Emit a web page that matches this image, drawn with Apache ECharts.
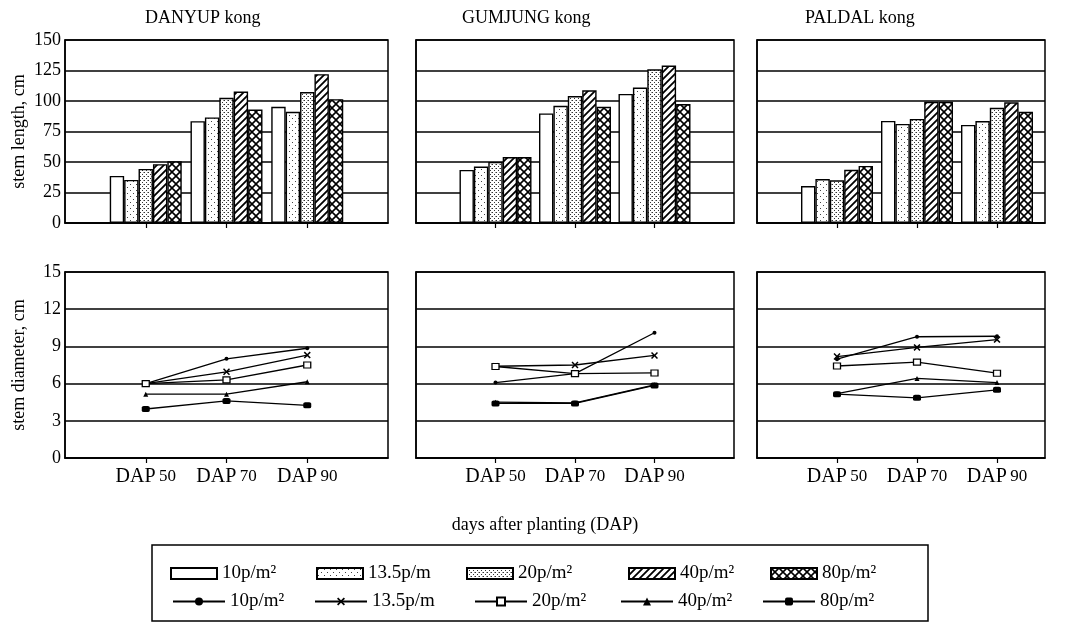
<!DOCTYPE html>
<html><head><meta charset="utf-8">
<script src="https://cdn.jsdelivr.net/npm/echarts@6/dist/echarts.min.js"></script>
<style>html,body{margin:0;padding:0;background:#fff}#c{width:1079px;height:636px}</style>
</head><body><div id="c"></div>
<script>
// ---- data ----
const cultivars = ['DANYUP kong', 'GUMJUNG kong', 'PALDAL kong'];
const categories = ['DAP 50', 'DAP 70', 'DAP 90'];
const densities = ['10p/m²', '13.5p/m', '20p/m²', '40p/m²', '80p/m²'];
const yLenTicks = [0, 25, 50, 75, 100, 125, 150];
const yDiaTicks = [0, 3, 6, 9, 12, 15];

// stem length (cm), rows = densities, cols = categories
const lengthDANYUP  = [[38.6, 83.5, 95.2], [35.3, 86.5, 91.1], [44.3, 102.6, 107.3], [48.2, 107.8, 122.0], [50.6, 93.0, 101.5]];
const lengthGUMJUNG = [[43.5, 89.8, 105.8], [46.3, 96.1, 111.0], [50.1, 104.0, 126.0], [54.0, 108.8, 129.0], [54.0, 95.3, 97.5]];
const lengthPALDAL  = [[30.3, 83.7, 80.4], [36.0, 81.2, 83.6], [35.0, 85.3, 94.4], [43.6, 99.4, 98.9], [46.8, 99.4, 91.1]];

// stem diameter (cm)
const diamDANYUP  = [[6.0, 8.0, 8.85], [6.0, 6.95, 8.3], [6.0, 6.3, 7.5], [5.15, 5.15, 6.15], [3.95, 4.6, 4.25]];
const diamGUMJUNG = [[6.08, 6.8, 10.1], [7.4, 7.5, 8.27], [7.38, 6.8, 6.86], [4.5, 4.45, 5.9], [4.4, 4.4, 5.85]];
const diamPALDAL  = [[7.97, 9.78, 9.82], [8.18, 8.92, 9.55], [7.42, 7.73, 6.84], [5.2, 6.42, 6.08], [5.15, 4.85, 5.5]];

const lengthData = [lengthDANYUP, lengthGUMJUNG, lengthPALDAL];
const diamData = [diamDANYUP, diamGUMJUNG, diamPALDAL];

// ---- patterns ----
function tile(w, h, draw) {
  const c = document.createElement('canvas'); c.width = w; c.height = h;
  const g = c.getContext('2d'); g.fillStyle = '#fff'; g.fillRect(0, 0, w, h);
  draw(g, w, h); return {image: c, repeat: 'repeat'};
}
const patterns = [
  '#ffffff',
  tile(6, 6, g => { g.fillStyle = '#444'; g.fillRect(1, 1, 1, 1); g.fillRect(4, 4, 1, 1); }),
  tile(4, 4, g => { g.fillStyle = '#333'; g.fillRect(0, 0, 1, 1); g.fillRect(2, 2, 1, 1); g.fillStyle = '#999'; g.fillRect(3, 0, 1, 1); }),
  tile(7, 7, (g, w, h) => { g.strokeStyle = '#000'; g.lineWidth = 1.8;
    g.beginPath(); g.moveTo(-1, h + 1); g.lineTo(w + 1, -1); g.moveTo(-1, 1); g.lineTo(1, -1); g.moveTo(w - 1, h + 1); g.lineTo(w + 1, h - 1); g.stroke(); }),
  tile(8, 8, (g, w, h) => { g.strokeStyle = '#000'; g.lineWidth = 1.6;
    g.beginPath(); g.moveTo(0, 0); g.lineTo(w, h); g.moveTo(0, h); g.lineTo(w, 0); g.stroke(); })
];
const xPath = 'path://M0,1.5L1.5,0L5,3.5L8.5,0L10,1.5L6.5,5L10,8.5L8.5,10L5,6.5L1.5,10L0,8.5L3.5,5Z';
const lineSymbols = [
  {symbol: 'circle', symbolSize: 4, color: '#000'},
  {symbol: xPath, symbolSize: 7, color: '#000'},
  {symbol: 'rect', symbolSize: [7, 6], color: '#fff'},
  {symbol: 'triangle', symbolSize: 5, color: '#000'},
  {symbol: 'roundRect', symbolSize: [8, 6], color: '#000'}
];

const serif = 'Liberation Serif, DejaVu Serif, serif';
const gridsX = [{left: 65, width: 323, max: 4}, {left: 416, width: 318, max: 4}, {left: 757, width: 288, max: 3.6}];

const grid = [], xAxis = [], yAxis = [], series = [];
gridsX.forEach((g, p) => {
  grid.push({left: g.left, width: g.width, top: 40, height: 183, show: true, borderColor: '#000', borderWidth: 1.5, backgroundColor: '#fff'});
});
gridsX.forEach((g, p) => {
  grid.push({left: g.left, width: g.width, top: 272, height: 186, show: true, borderColor: '#000', borderWidth: 1.5, backgroundColor: '#fff'});
});
for (let k = 0; k < 6; k++) {
  const p = k % 3, bottom = k >= 3;
  xAxis.push({
    type: 'value', gridIndex: k, min: 0, max: gridsX[p].max, interval: 1,
    axisLine: {show: true, lineStyle: {color: '#000', width: 1.5}},
    axisTick: {show: true, customValues: [1, 2, 3], length: 5, lineStyle: {color: '#000', width: 1.2}},
    splitLine: {show: false},
    axisLabel: {show: bottom, customValues: [1, 2, 3], margin: 9, color: '#000',
      formatter: v => { const s = categories[Math.round(v) - 1]; if (!s) return ''; const parts = s.split(' '); return '{a|' + parts[0] + '} {b|' + parts[1] + '}'; },
      rich: {a: {fontFamily: serif, fontSize: 20, color: '#000'}, b: {fontFamily: serif, fontSize: 17, color: '#000'}}}
  });
  const ticks = bottom ? yDiaTicks : yLenTicks;
  yAxis.push({
    type: 'value', gridIndex: k, min: ticks[0], max: ticks[ticks.length - 1], interval: ticks[1] - ticks[0],
    name: p === 0 ? (bottom ? 'stem diameter, cm' : 'stem length, cm') : '',
    nameLocation: 'middle', nameGap: 37, nameTextStyle: {fontFamily: serif, fontSize: 18, color: '#000'},
    axisLine: {show: true, lineStyle: {color: '#000', width: 1.5}},
    axisTick: {show: false},
    axisLabel: {show: p === 0, fontFamily: serif, fontSize: 18, color: '#000', margin: 4},
    splitLine: {show: true, lineStyle: {color: '#000', width: 1.5}}
  });
}
for (let p = 0; p < 3; p++) {
  densities.forEach((d, i) => {
    series.push({
      type: 'bar', name: d, xAxisIndex: p, yAxisIndex: p, barWidth: 14.4, barGap: '0%',
      itemStyle: {color: patterns[i], borderColor: '#000', borderWidth: 1.4},
      data: categories.map((c, j) => [j + 1, lengthData[p][i][j]]), z: 3, animation: false
    });
  });
  densities.forEach((d, i) => {
    const s = lineSymbols[i];
    series.push({
      type: 'line', name: d + ' ', xAxisIndex: p + 3, yAxisIndex: p + 3,
      symbol: s.symbol, symbolSize: s.symbolSize, showSymbol: true,
      lineStyle: {color: '#000', width: 1.3},
      itemStyle: {color: s.color, borderColor: '#000', borderWidth: s.color === '#fff' ? 1.2 : 0},
      data: categories.map((c, j) => [j + 1, diamData[p][i][j]]), z: 4, animation: false
    });
  });
}

const legendText = {fontFamily: serif, fontSize: 19, color: '#000'};
const row1Left = [170, 316, 466, 628, 770];
const row2Left = [172, 314, 474, 620, 762];
const legend = [];
densities.forEach((d, i) => {
  legend.push({data: [d], left: row1Left[i], top: 564, icon: 'rect', itemWidth: 46, itemHeight: 11, itemGap: 0, selectedMode: false, textStyle: legendText, padding: 0});
  legend.push({data: [d + ' '], left: row2Left[i], top: 592, itemWidth: 52, itemHeight: 10, itemGap: 0, selectedMode: false, textStyle: legendText, padding: 0});
});

const title = [
  {text: cultivars[0], left: 140, top: 4, textStyle: {fontFamily: serif, fontSize: 18, fontWeight: 'normal', color: '#000'}},
  {text: cultivars[1], left: 457, top: 4, textStyle: {fontFamily: serif, fontSize: 18, fontWeight: 'normal', color: '#000'}},
  {text: cultivars[2], left: 800, top: 4, textStyle: {fontFamily: serif, fontSize: 18, fontWeight: 'normal', color: '#000'}},
  {text: 'days after planting (DAP)', left: 540, textAlign: 'center', top: 511, textStyle: {fontFamily: serif, fontSize: 18, fontWeight: 'normal', color: '#000'}}
];

const chart = echarts.init(document.getElementById('c'), null, {renderer: 'canvas'});
chart.setOption({
  animation: false, backgroundColor: '#fff', title, grid, xAxis, yAxis, series, legend,
  graphic: [{type: 'rect', shape: {x: 152, y: 545, width: 776, height: 76}, style: {fill: 'none', stroke: '#000', lineWidth: 1.5}, silent: true}]
});
</script></body></html>
